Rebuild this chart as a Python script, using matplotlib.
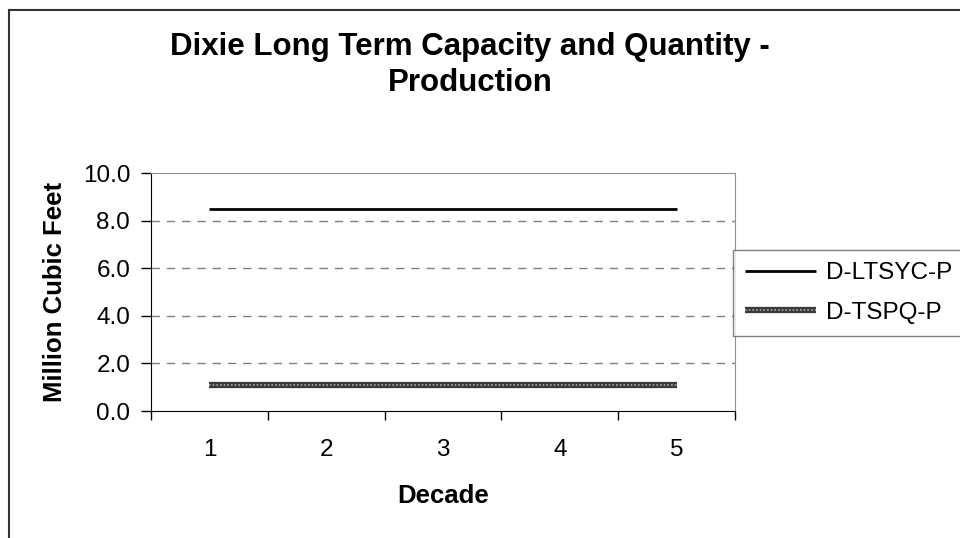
import matplotlib.pyplot as plt
from matplotlib.lines import Line2D
from matplotlib.legend_handler import HandlerTuple
from matplotlib.ticker import FormatStrFormatter

plt.rcParams['font.family'] = ['Liberation Sans', 'DejaVu Sans']

decades = [1, 2, 3, 4, 5]
ltsyc = [8.5, 8.5, 8.5, 8.5, 8.5]
tspq = [1.1, 1.1, 1.1, 1.1, 1.1]

fig = plt.figure(figsize=(9.6, 5.38), dpi=100)
ax = fig.add_axes([151 / 960, 127 / 538, 584 / 960, 238 / 538])

l1, = ax.plot(decades, ltsyc, color='black', lw=2, solid_capstyle='butt')
l2a, = ax.plot(decades, tspq, color='#3a3a3a', lw=4.5, solid_capstyle='butt')
l2b, = ax.plot(decades, tspq, color='#a8a8a8', lw=1.2, linestyle=(0, (1, 1.2)))

ax.set_xlim(0.5, 5.5)
ax.set_ylim(0, 10)
ax.set_yticks([0, 2, 4, 6, 8, 10])
ax.yaxis.set_major_formatter(FormatStrFormatter('%.1f'))
ax.set_xticks(decades)
ax.set_xticks([0.5, 1.5, 2.5, 3.5, 4.5, 5.5], minor=True)
ax.tick_params(axis='x', which='major', length=0, labelsize=17.5, pad=20)
ax.tick_params(axis='x', which='minor', length=6.5, direction='out', width=1)
ax.tick_params(axis='y', length=7, direction='out', labelsize=17.5, width=1, pad=8)

for y in [2, 4, 6, 8]:
    ax.axhline(y, color='#808080', lw=1, linestyle=(0, (6, 5)), zorder=0)

ax.spines['left'].set_color('black')
ax.spines['bottom'].set_color('black')
ax.spines['top'].set_color('#909090')
ax.spines['right'].set_color('#909090')

ax.set_xlabel('Decade', fontsize=18.5, fontweight='bold', labelpad=17)
ax.set_ylabel('Million Cubic Feet', fontsize=18.5, fontweight='bold', labelpad=11)

fig.text(470 / 960, 1 - 65 / 538, 'Dixie Long Term Capacity and Quantity -\nProduction',
         ha='center', va='center', fontsize=22.5, fontweight='bold', linespacing=1.25)

leg = ax.legend([l1, (l2a, l2b)], ['D-LTSYC-P', 'D-TSPQ-P'],
                handler_map={tuple: HandlerTuple(ndivide=1)},
                loc='upper left', bbox_to_anchor=(0.997, 0.676),
                fontsize=17.5, frameon=True, fancybox=False, handlelength=2.9,
                handletextpad=0.4, borderpad=0.5, labelspacing=0.72,
                borderaxespad=0)
leg.get_frame().set_edgecolor('#606060')
leg.get_frame().set_linewidth(1)

# outer chart border (cropped at right and bottom)
fig.add_artist(Line2D([9 / 960, 9 / 960], [0, 1 - 10 / 538], color='#333333', lw=1.5))
fig.add_artist(Line2D([9 / 960, 1], [1 - 10 / 538, 1 - 10 / 538], color='#333333', lw=1.5))

fig.savefig('out.png', dpi=100)
